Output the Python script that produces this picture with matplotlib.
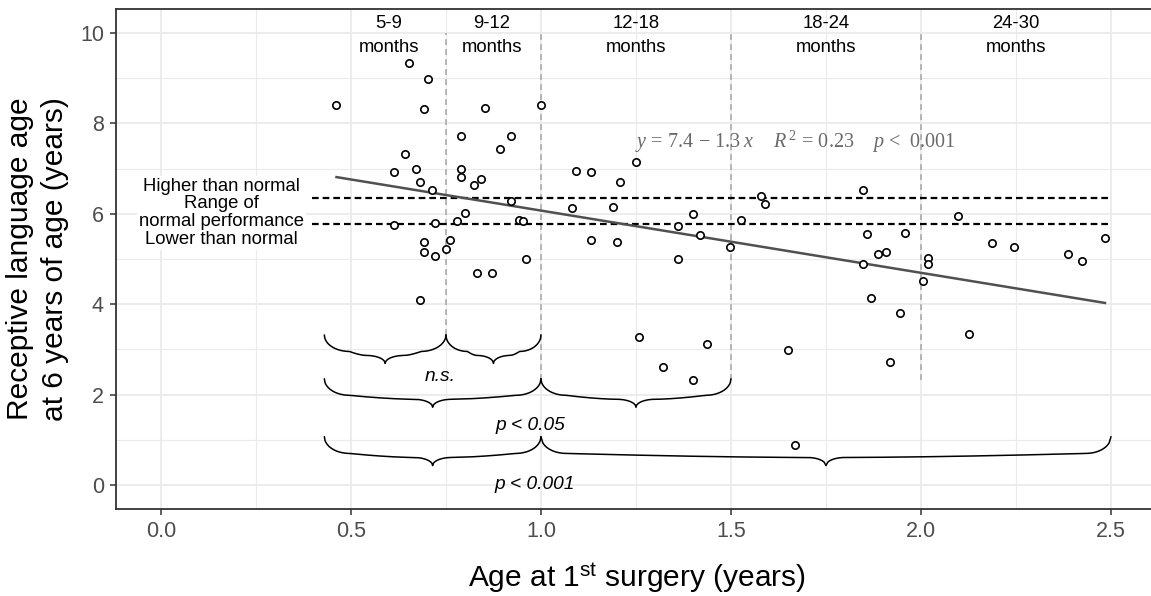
import numpy as np
import matplotlib
matplotlib.use("Agg")
import matplotlib.pyplot as plt

plt.rcParams['font.family'] = ['Liberation Sans', 'DejaVu Sans']
plt.rcParams['mathtext.fontset'] = 'custom'
plt.rcParams['mathtext.rm'] = 'Liberation Serif'
plt.rcParams['mathtext.it'] = 'Liberation Serif:italic'
plt.rcParams['mathtext.sf'] = 'Liberation Sans'

# ---------------- data ----------------
age_surgery = [0.462, 0.653, 0.702, 0.691, 0.643, 0.614, 0.672, 0.682, 0.712, 0.614,
               0.721, 0.691, 0.691, 0.721, 0.682, 0.750,
               0.853, 1.000, 0.790, 0.921, 0.892, 0.790, 0.790, 0.843, 0.823, 0.921,
               0.800, 0.780, 0.941, 0.953, 0.761, 0.961, 0.833, 0.872,
               1.092, 1.131, 1.209, 1.249, 1.082, 1.190, 1.131, 1.200, 1.360, 1.400,
               1.419, 1.360, 1.497, 1.259, 1.438, 1.321, 1.400,
               1.527, 1.580, 1.590, 1.649, 1.669, 1.848, 1.859, 1.957, 1.888, 1.908,
               1.848, 1.868, 1.946, 1.918,
               2.018, 2.018, 2.006, 2.097, 2.186, 2.245, 2.386, 2.425, 2.484, 2.127]
receptive_age = [8.41, 9.34, 8.98, 8.32, 7.33, 6.92, 6.98, 6.70, 6.53, 5.76,
                 5.79, 5.38, 5.15, 5.07, 4.09, 5.21,
                 8.35, 8.41, 7.71, 7.71, 7.44, 6.98, 6.81, 6.76, 6.64, 6.28,
                 6.01, 5.84, 5.87, 5.85, 5.43, 5.01, 4.69, 4.69,
                 6.95, 6.92, 6.70, 7.14, 6.12, 6.15, 5.43, 5.38, 5.74, 6.00,
                 5.52, 4.99, 5.27, 3.28, 3.12, 2.62, 2.32,
                 5.87, 6.39, 6.22, 2.98, 0.88, 6.53, 5.55, 5.58, 5.10, 5.15,
                 4.88, 4.14, 3.81, 2.73,
                 5.02, 4.90, 4.52, 5.95, 5.35, 5.27, 5.12, 4.96, 5.46, 3.33]

normal_range = [6.34, 5.77]          # limits of normal performance
normal_x = [0.397, 2.5]

group_bounds = [0.75, 1.0, 1.5, 2.0]
group_bound_low = [3.32, 2.32, 2.32, 2.32]
group_bound_high = 10.0

group_names = ['5-9', '9-12', '12-18', '18-24', '24-30']
group_label_x = [0.60, 0.87, 1.25, 1.75, 2.25]
group_label_y = 9.95

# braces: (x_start, x_end, y_top, y_tip)
braces = [(0.43, 0.75, 3.32, 2.69), (0.75, 1.0, 3.32, 2.69),
          (0.43, 1.0, 2.35, 1.72), (1.0, 1.5, 2.35, 1.72),
          (0.43, 1.0, 1.07, 0.43), (1.0, 2.5, 1.07, 0.43)]
sig_labels = ['n.s.', 'p < 0.05', 'p < 0.001']
sig_x = [0.736, 0.971, 0.984]
sig_y = [2.40, 1.31, 0.00]

eq_text = r"$y\,=\,7.4\,-\,1.3\;x$    $R^{\,2}\,=\,0.23$    $p\,<\;\,0.001$"

xticks = [0.0, 0.5, 1.0, 1.5, 2.0, 2.5]
yticks = [0, 2, 4, 6, 8, 10]

# ---------------- figure ----------------
fig = plt.figure(figsize=(11.51, 5.96), dpi=100)
ax = fig.add_axes([115.7/1151, 87/596, (1158.5-115.7)/1151, (509-9.3)/596])
ax.set_xlim(-0.119, 2.625)
ax.set_ylim(-0.531, 10.524)

grid_c = '#EBEBEB'
ax.set_xticks(xticks)
ax.set_yticks(yticks)
ax.set_xticks(np.arange(0.25, 2.6, 0.5), minor=True)
ax.set_yticks(np.arange(1, 10.5, 2), minor=True)
ax.grid(True, which='major', color=grid_c, lw=1.3, zorder=0)
ax.grid(True, which='minor', color=grid_c, lw=0.8, zorder=0)
ax.set_axisbelow(True)
ax.set_xticklabels([f"{v:.1f}" for v in xticks])
ax.set_yticklabels([str(v) for v in yticks])
ax.tick_params(which='major', length=4.5, width=1.1, color='#333333',
               labelsize=15.5, labelcolor='#4D4D4D', pad=4)
ax.tick_params(which='minor', length=0)
for s in ax.spines.values():
    s.set_color('#333333')
    s.set_linewidth(1.3)

# white box behind left labels + labels
ax.text(0.16, 6.02, "Higher than normal\nRange of\nnormal performance\nLower than normal",
        ha='center', va='center', fontsize=13.3, linespacing=1.06, color='black',
        bbox=dict(facecolor='white', edgecolor='none', pad=1.5), zorder=2)

# vertical dashed group boundaries
for xb, yl in zip(group_bounds, group_bound_low):
    ax.plot([xb, xb], [yl, group_bound_high], color='#ABABAB', lw=1.2,
            dashes=(3.5, 2.5), zorder=2)

# horizontal dashed normal range
for yv in normal_range:
    ax.plot(normal_x, [yv, yv], color='black', lw=1.6, dashes=(3, 1.8), zorder=3)

# regression line
xs = np.array(age_surgery)
ys = np.array(receptive_age)
slope, intercept = np.polyfit(xs, ys, 1)
xl = np.array([xs.min(), xs.max()])
ax.plot(xl, intercept + slope*xl, color='#505050', lw=1.8, zorder=3)

# points
ax.plot(age_surgery, receptive_age, 'o', mfc='white', mec='black', ms=5.3,
        mew=1.2, zorder=4)

# group labels
for name, gx in zip(group_names, group_label_x):
    ax.text(gx, group_label_y, f"{name}\nmonths", ha='center', va='center',
            fontsize=13.3, linespacing=1.55, color='black')

# equation
ax.text(1.247, 7.6, eq_text, ha='left', va='center', fontsize=14.5,
        color='#6A6A6A', family='Liberation Serif')


def brace_xy(x1, x2, ytop, ybot, n=150):
    W = (x2 - x1) / 2
    h = ytop - ybot
    re = min(0.066, 0.45*W)
    rm = min(0.05, 0.35*W)
    d1, d2, d3 = 0.58*h, 0.14*h, 0.28*h
    u = np.linspace(0, W, n)
    v = np.empty_like(u)
    m1 = u <= re
    t = u[m1] / re
    v[m1] = d1*np.sqrt(np.clip(1 - (1 - t)**2, 0, 1))
    m2 = (u > re) & (u <= W - rm)
    t = (u[m2] - re) / max(W - rm - re, 1e-9)
    v[m2] = d1 + d2*(1 - (1 - t)**1.6)
    m3 = u > W - rm
    t = (u[m3] - (W - rm)) / rm
    v[m3] = d1 + d2 + d3*(1 - np.sqrt(np.clip(1 - t**2, 0, 1)))
    xl_ = x1 + u
    yl_ = ytop - v
    xr_ = (x2 - u)[::-1]
    yr_ = yl_[::-1]
    return np.concatenate([xl_, xr_]), np.concatenate([yl_, yr_])


for (b1, b2, bt, bb) in braces:
    bx, by = brace_xy(b1, b2, bt, bb)
    ax.plot(bx, by, color='black', lw=1.1, zorder=3, solid_capstyle='round')

for lab, lx, ly in zip(sig_labels, sig_x, sig_y):
    ax.text(lx, ly, lab, ha='center', va='center', fontsize=13.8, style='italic',
            color='black')

ax.set_xlabel(r"Age at 1$^{\mathsf{st}}$ surgery (years)", fontsize=21.5,
              labelpad=14)
ax.set_ylabel("Receptive language age\nat 6 years of age (years)", fontsize=21.5,
              labelpad=8, linespacing=1.3)

fig.savefig("out.png", dpi=100)
